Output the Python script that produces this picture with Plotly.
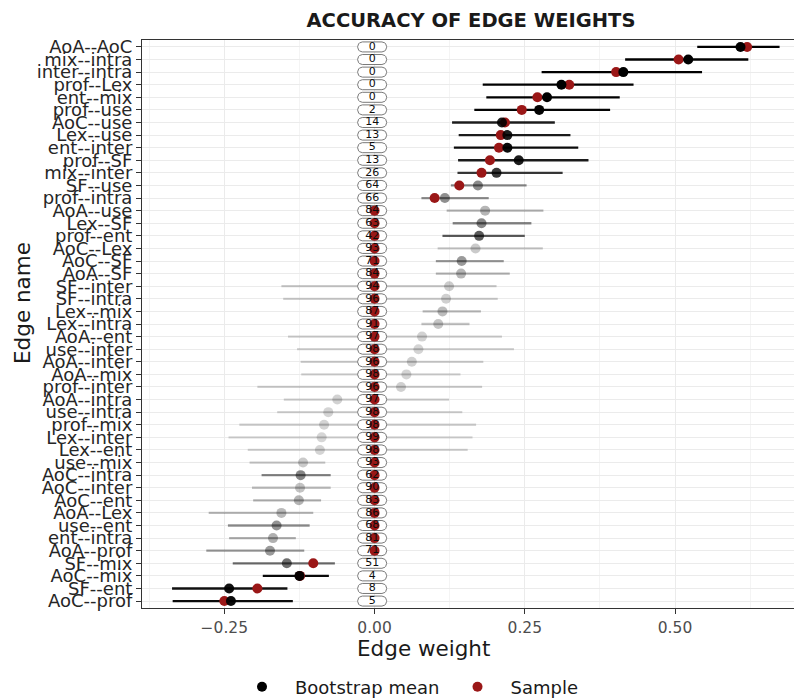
import numpy as np
import plotly.graph_objects as go

# ---------------- data ----------------
edges = ["AoA--AoC", "mix--intra", "inter--intra", "prof--Lex", "ent--mix",
         "prof--use", "AoC--use", "Lex--use", "ent--inter", "prof--SF",
         "mix--inter", "SF--use", "prof--intra", "AoA--use", "Lex--SF",
         "prof--ent", "AoC--Lex", "AoC--SF", "AoA--SF", "SF--inter",
         "SF--intra", "Lex--mix", "Lex--intra", "AoA--ent", "use--inter",
         "AoA--inter", "AoA--mix", "prof--inter", "AoA--intra", "use--intra",
         "prof--mix", "Lex--inter", "Lex--ent", "use--mix", "AoC--intra",
         "AoC--inter", "AoC--ent", "AoA--Lex", "use--ent", "ent--intra",
         "AoA--prof", "SF--mix", "AoC--mix", "SF--ent", "AoC--prof"]

sample = [0.620, 0.506, 0.402, 0.324, 0.271, 0.245, 0.217, 0.210, 0.207, 0.192,
          0.178, 0.141, 0.100, 0, 0, 0, 0, 0, 0, 0,
          0, 0, 0, 0, 0, 0, 0, 0, 0, 0,
          0, 0, 0, 0, 0, 0, 0, 0, 0, 0,
          0, -0.102, -0.124, -0.195, -0.250]

boot_mean = [0.609, 0.522, 0.414, 0.311, 0.287, 0.274, 0.212, 0.221, 0.221, 0.240,
             0.203, 0.172, 0.117, 0.184, 0.178, 0.174, 0.168, 0.145, 0.144, 0.124,
             0.119, 0.113, 0.106, 0.079, 0.073, 0.062, 0.053, 0.044, -0.062, -0.077,
             -0.084, -0.088, -0.091, -0.119, -0.123, -0.124, -0.126, -0.155, -0.163, -0.169,
             -0.174, -0.146, -0.125, -0.242, -0.239]

ci_low = [0.537, 0.417, 0.278, 0.180, 0.186, 0.166, 0.129, 0.140, 0.132, 0.139,
          0.138, 0.127, 0.078, 0.120, 0.130, 0.113, 0.105, 0.102, 0.102, -0.155,
          -0.152, 0.080, 0.078, -0.144, -0.129, -0.123, -0.122, -0.195, -0.151, -0.162,
          -0.225, -0.243, -0.211, -0.208, -0.188, -0.204, -0.202, -0.276, -0.244, -0.242,
          -0.280, -0.236, -0.186, -0.337, -0.336]

ci_high = [0.674, 0.622, 0.545, 0.431, 0.408, 0.392, 0.300, 0.326, 0.339, 0.356,
           0.313, 0.253, 0.190, 0.281, 0.261, 0.250, 0.280, 0.215, 0.225, 0.203,
           0.205, 0.177, 0.158, 0.212, 0.232, 0.181, 0.143, 0.179, 0.124, 0.146,
           0.169, 0.163, 0.155, -0.082, -0.073, -0.073, -0.089, -0.102, -0.108, -0.131,
           -0.117, -0.066, -0.076, -0.145, -0.136]

pct_zero = [0, 0, 0, 0, 0, 2, 14, 13, 5, 13,
            26, 64, 66, 84, 63, 42, 93, 71, 84, 94,
            96, 87, 91, 97, 98, 96, 98, 96, 97, 98,
            98, 99, 98, 93, 62, 90, 83, 86, 68, 81,
            71, 51, 4, 8, 5]

x_tickvals = [-0.25, 0.0, 0.25, 0.50]
x_ticktext = ["\u22120.25", "0.00", "0.25", "0.50"]
x_minorvals = [-0.375, -0.125, 0.125, 0.375, 0.625]

# ---------------- layout constants ----------------
# the page body has an 8px margin, so the figure is sized to fit the window
OFF = 8
W, H = 802 - OFF, 700 - OFF
ML, MR, MT, MB = 142 - OFF, 2, 40 - OFF, 92
PW, PH = W - ML - MR, H - MT - MB
XMIN, XMAX = -0.387, 0.708
YPAD = 0.55
FONT = "DejaVu Sans"
RED = "#9a1717"
n = len(edges)
ypos = list(range(n))
px_x = PW / (XMAX - XMIN)
px_y = PH / (n - 1 + 2 * YPAD)


def paper_x(sx):
    return (sx - OFF - ML) / PW


def paper_y(sy):
    return 1 - (sy - OFF - MT) / PH


def alpha(p):
    return 0.15 + 0.85 * (1 - p / 100.0)


fig = go.Figure()

# confidence-interval segments (alpha by share of zero bootstraps)
for i in range(n):
    a = alpha(pct_zero[i])
    fig.add_trace(go.Scatter(
        x=[ci_low[i], ci_high[i]], y=[ypos[i], ypos[i]], mode="lines",
        line=dict(color=f"rgba(0,0,0,{a:.3f})", width=2.3),
        showlegend=False, hoverinfo="skip"))

# rounded label boxes around x = 0
LABEL_X = -0.004
hw, hh, rr = 14.5, 5.0, 4.7
tt = np.linspace(0, np.pi / 2, 8)
outline = []
for cx0, cy0, a0 in [(hw - rr, hh - rr, 0.0), (-(hw - rr), hh - rr, np.pi / 2),
                     (-(hw - rr), -(hh - rr), np.pi), (hw - rr, -(hh - rr), 1.5 * np.pi)]:
    for t in tt:
        outline.append((cx0 + rr * np.cos(a0 + t), cy0 + rr * np.sin(a0 + t)))
outline.append(outline[0])
bx, by = [], []
for i in range(n):
    for ox, oy in outline:
        bx.append(LABEL_X + ox / px_x)
        by.append(ypos[i] - oy / px_y)
    bx.append(None)
    by.append(None)
fig.add_trace(go.Scatter(
    x=bx, y=by, mode="lines", fill="toself", fillcolor="white",
    line=dict(color="#6a6a6a", width=0.9), showlegend=False, hoverinfo="skip"))

# sample points
fig.add_trace(go.Scatter(
    x=sample, y=ypos, mode="markers",
    marker=dict(color=RED, size=10, line=dict(width=0)),
    showlegend=False, hoverinfo="skip"))

# bootstrap means
fig.add_trace(go.Scatter(
    x=boot_mean, y=ypos, mode="markers",
    marker=dict(color=[f"rgba(0,0,0,{alpha(p):.3f})" for p in pct_zero],
                size=10, line=dict(width=0)),
    showlegend=False, hoverinfo="skip"))

# label text
fig.add_trace(go.Scatter(
    x=[LABEL_X] * n, y=ypos, mode="text", text=[str(v) for v in pct_zero],
    textfont=dict(family=FONT, size=11, color="#0d0d0d"),
    textposition="middle center", showlegend=False, hoverinfo="skip"))

# legend entries
fig.add_trace(go.Scatter(x=[None], y=[None], mode="markers", name="Bootstrap mean",
                         marker=dict(color="black", size=10)))
fig.add_trace(go.Scatter(x=[None], y=[None], mode="markers", name="Sample",
                         marker=dict(color=RED, size=10)))

fig.update_layout(
    width=W, height=H,
    margin=dict(l=ML, r=MR, t=MT, b=MB, pad=0, autoexpand=False),
    paper_bgcolor="white", plot_bgcolor="white",
    font=dict(family=FONT, color="#333333"),
    title=dict(text="<b>ACCURACY OF EDGE WEIGHTS</b>", x=(471 - OFF) / W, xanchor="center",
               xref="container", y=1 - (20 - OFF) / H, yanchor="middle", yref="container",
               font=dict(family=FONT, size=19.5, color="#1a1a1a")),
    showlegend=True,
    legend=dict(orientation="h", xref="container", yref="container",
                x=(262 - OFF - 33) / W, xanchor="left",
                y=1 - (687 - OFF) / H, yanchor="middle",
                font=dict(family=FONT, size=18, color="#1a1a1a"),
                itemwidth=56, bgcolor="rgba(0,0,0,0)"),
    xaxis=dict(range=[XMIN, XMAX], tickmode="array", tickvals=x_tickvals,
               ticktext=x_ticktext, showgrid=True, gridcolor="#EBEBEB", gridwidth=1.1,
               minor=dict(tickmode="array", tickvals=x_minorvals, showgrid=True,
                          gridcolor="#F4F4F4", gridwidth=0.6, ticks=""),
               ticks="outside", ticklen=5, tickwidth=1.1, tickcolor="#333333",
               showline=True, mirror=True, linecolor="#333333", linewidth=1.1,
               zeroline=False, automargin=False,
               tickfont=dict(family=FONT, size=15.5, color="#4d4d4d")),
    yaxis=dict(range=[n - 1 + YPAD, -YPAD], tickmode="array", tickvals=ypos,
               ticktext=edges, showgrid=True, gridcolor="#EBEBEB", gridwidth=1.1,
               ticks="outside", ticklen=5, tickwidth=1.1, tickcolor="#333333",
               showline=True, mirror=True, linecolor="#333333", linewidth=1.1,
               zeroline=False, automargin=False,
               tickfont=dict(family=FONT, size=18, color="#262626")),
    annotations=[
        dict(text="Edge name", xref="paper", yref="paper",
             x=paper_x(22), y=paper_y(303),
             xanchor="center", yanchor="middle", textangle=-90, showarrow=False,
             font=dict(family=FONT, size=21.5, color="#1a1a1a")),
        dict(text="Edge weight", xref="paper", yref="paper",
             x=paper_x(423.5), y=paper_y(648),
             xanchor="center", yanchor="middle", showarrow=False,
             font=dict(family=FONT, size=21.5, color="#1a1a1a")),
    ],
)

fig.write_html("out.html")
